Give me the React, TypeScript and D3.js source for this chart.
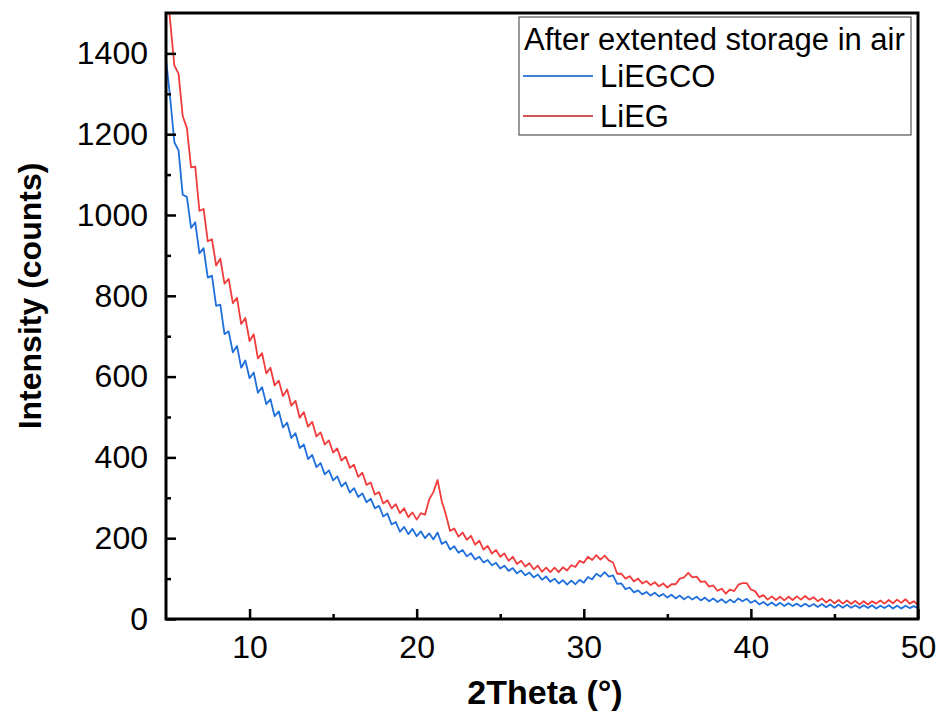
import React, { useEffect, useRef } from "react";
import * as d3 from "d3";

// scan runs 5..50 deg at 0.25 deg steps
const thetaStart = 5;
const thetaStep = 0.25;

const liegco = [
  1385, 1290, 1180, 1160, 1050, 1045, 968, 982, 905, 918, 845, 850, 775, 778, 705, 712, 660, 676, 622, 640,
  596, 610, 560, 574, 532, 544, 502, 514, 474, 486, 448, 460, 423, 432, 396, 406, 376, 386, 358, 368,
  343, 353, 328, 338, 313, 324, 302, 311, 289, 298, 274, 280, 254, 261, 234, 240, 216, 228, 210, 223,
  205, 217, 200, 212, 197, 214, 186, 192, 172, 180, 164, 171, 155, 163, 147, 154, 140, 146, 133, 139,
  125, 132, 119, 126, 113, 120, 108, 115, 103, 110, 97, 105, 92, 100, 88, 96, 85, 95, 86, 97,
  90, 104, 98, 112, 105, 116, 105, 108, 87, 88, 74, 78, 66, 71, 61, 67, 58, 65, 56, 62,
  53, 60, 51, 58, 49, 56, 48, 55, 46, 53, 44, 51, 42, 49, 40, 48, 41, 51, 44, 50,
  40, 46, 36, 42, 34, 41, 33, 40, 32, 39, 32, 38, 31, 38, 31, 37, 30, 37, 29, 36,
  28, 35, 28, 35, 28, 34, 27, 34, 27, 34, 26, 33, 27, 34, 26, 33, 26, 33, 27, 32,
  27,
];

const lieg = [
  1590, 1480, 1370, 1350, 1245, 1215, 1118, 1120, 1010, 1015, 935, 940, 875, 892, 830, 842, 782, 795, 730, 745,
  688, 705, 645, 658, 608, 622, 578, 590, 552, 568, 528, 540, 498, 512, 476, 488, 452, 462, 432, 442,
  412, 422, 392, 402, 374, 382, 352, 362, 332, 338, 308, 314, 286, 294, 274, 284, 262, 274, 252, 264,
  246, 262, 258, 296, 314, 344, 292, 258, 218, 224, 204, 214, 196, 206, 184, 194, 172, 181, 162, 171,
  154, 162, 144, 154, 136, 144, 130, 138, 123, 132, 117, 127, 116, 127, 116, 128, 120, 133, 129, 144,
  139, 154, 146, 158, 147, 157, 145, 140, 112, 112, 100, 106, 93, 100, 88, 94, 84, 91, 81, 88,
  78, 86, 86, 100, 103, 114, 103, 105, 92, 93, 80, 83, 70, 75, 63, 73, 69, 85, 89, 89,
  73, 69, 54, 59, 48, 56, 47, 55, 46, 55, 47, 56, 48, 57, 48, 54, 44, 51, 41, 48,
  39, 47, 38, 46, 37, 45, 36, 44, 36, 44, 38, 46, 38, 47, 39, 48, 40, 49, 38, 44,
  35,
];

const xTicks = [10, 20, 30, 40, 50];
const xMinor = [15, 25, 35, 45];
const yTicks = [0, 200, 400, 600, 800, 1000, 1200, 1400];
const yMinor = [100, 300, 500, 700, 900, 1100, 1300];

const series = [
  { name: "LiEGCO", values: liegco, color: "#1f6fdc", legendColor: "#3f7fd6" },
  { name: "LiEG", values: lieg, color: "#f03c3c", legendColor: "#d25555" },
];

const legendTitle = "After extented storage in air";

const W = 943;
const H = 719;
const margin = { top: 13, right: 25, bottom: 100, left: 166 };

const App = () => {
  const ref = useRef<SVGSVGElement | null>(null);

  useEffect(() => {
    const svg = d3.select(ref.current);
    svg.selectAll("*").remove();

    const pw = W - margin.left - margin.right;
    const ph = H - margin.top - margin.bottom;

    const x = d3.scaleLinear().domain([5, 50]).range([0, pw]);
    const y = d3.scaleLinear().domain([0, 1500]).range([ph, 0]);

    const g = svg.append("g").attr("transform", `translate(${margin.left},${margin.top})`);

    g.append("clipPath")
      .attr("id", "plot-clip")
      .append("rect")
      .attr("width", pw)
      .attr("height", ph);

    const line = d3
      .line<number>()
      .x((_, i) => x(thetaStart + i * thetaStep))
      .y((d) => y(d));

    series.forEach((s) => {
      g.append("path")
        .datum(s.values)
        .attr("clip-path", "url(#plot-clip)")
        .attr("fill", "none")
        .attr("stroke", s.color)
        .attr("stroke-width", 1.8)
        .attr("stroke-linejoin", "round")
        .attr("d", line);
    });

    const font = "Liberation Sans, Arial, sans-serif";

    // x axis, ticks inward
    const xAxis = g
      .append("g")
      .attr("transform", `translate(0,${ph})`)
      .call(d3.axisBottom(x).tickValues(xTicks).tickSize(-10).tickPadding(16).tickFormat(d3.format("d")));
    xAxis.select(".domain").remove();
    xAxis.selectAll(".tick line").attr("stroke", "#000").attr("stroke-width", 2.5);
    xAxis.selectAll(".tick text").attr("font-family", font).attr("font-size", 32).attr("fill", "#000");

    g.append("g")
      .attr("transform", `translate(0,${ph})`)
      .call(d3.axisBottom(x).tickValues(xMinor).tickSize(-5).tickFormat(() => ""))
      .call((a) => a.select(".domain").remove())
      .selectAll(".tick line")
      .attr("stroke", "#000")
      .attr("stroke-width", 2.5);

    const yAxis = g
      .append("g")
      .call(d3.axisLeft(y).tickValues(yTicks).tickSize(-10).tickPadding(18).tickFormat(d3.format("d")));
    yAxis.select(".domain").remove();
    yAxis.selectAll(".tick line").attr("stroke", "#000").attr("stroke-width", 2.5);
    yAxis.selectAll(".tick text").attr("font-family", font).attr("font-size", 32).attr("fill", "#000");

    g.append("g")
      .call(d3.axisLeft(y).tickValues(yMinor).tickSize(-5).tickFormat(() => ""))
      .call((a) => a.select(".domain").remove())
      .selectAll(".tick line")
      .attr("stroke", "#000")
      .attr("stroke-width", 2.5);

    // frame
    g.append("rect")
      .attr("width", pw)
      .attr("height", ph)
      .attr("fill", "none")
      .attr("stroke", "#000")
      .attr("stroke-width", 3);

    // axis titles
    svg
      .append("text")
      .attr("x", 545)
      .attr("y", 704)
      .attr("text-anchor", "middle")
      .attr("font-family", font)
      .attr("font-weight", "bold")
      .attr("font-size", 34)
      .text("2Theta (°)");

    svg
      .append("text")
      .attr("transform", `translate(41,296) rotate(-90)`)
      .attr("text-anchor", "middle")
      .attr("font-family", font)
      .attr("font-weight", "bold")
      .attr("font-size", 32)
      .text("Intensity (counts)");

    // legend
    const lg = svg.append("g").attr("transform", "translate(519,17)");
    lg.append("rect")
      .attr("width", 392)
      .attr("height", 118)
      .attr("fill", "#fff")
      .attr("stroke", "#555")
      .attr("stroke-width", 1.2);
    lg.append("text")
      .attr("x", 5)
      .attr("y", 33)
      .attr("font-family", font)
      .attr("font-size", 31)
      .text(legendTitle);
    series.forEach((s, i) => {
      const ly = 59 + i * 40;
      lg.append("line")
        .attr("x1", 4)
        .attr("x2", 74)
        .attr("y1", ly)
        .attr("y2", ly)
        .attr("stroke", s.legendColor)
        .attr("stroke-width", 2);
      lg.append("text")
        .attr("x", 81)
        .attr("y", ly + 11)
        .attr("font-family", font)
        .attr("font-size", 31)
        .text(s.name);
    });
  }, []);

  return (
    <svg
      ref={ref}
      width={W}
      height={H}
      style={{ position: "absolute", left: 0, top: 0, background: "#fff" }}
    />
  );
};

export default App;
